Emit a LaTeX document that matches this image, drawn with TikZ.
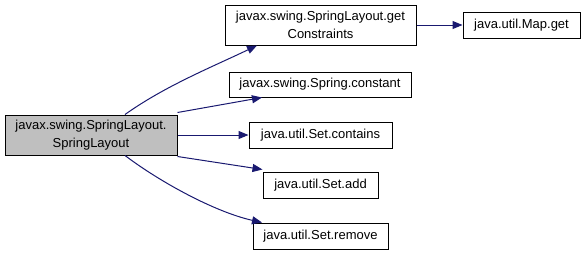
\documentclass[tikz,border=0pt]{standalone}
\usepackage{fontspec}
\setmainfont{Liberation Sans}
\usetikzlibrary{arrows.meta}
\definecolor{edgeblue}{HTML}{191970}
\definecolor{srcgray}{HTML}{BFBFBF}
\begin{document}
\begin{tikzpicture}[x=1pt,y=-1pt,
  box/.style={draw=black, line width=1pt, fill=white, inner sep=0pt,
    align=center, font=\fontsize{13}{17.5}\selectfont},
  edge/.style={draw=edgeblue, line width=1pt,
    -{Triangle[length=10pt,width=8pt]}, color=edgeblue}]
  \useasboundingbox (0,0) rectangle (585,255);
  % caller
  \node[box, fill=srcgray, minimum width=172pt, minimum height=40pt]
    (src) at (91,135) {javax.swing.SpringLayout.\\SpringLayout};
  % callees
  \node[box, minimum width=191pt, minimum height=40pt]
    (gc) at (320.5,25) {javax.swing.SpringLayout.get\\Constraints};
  \node[box, minimum width=117pt, minimum height=26pt]
    (map) at (521.5,25) {java.util.Map.get};
  \node[box, minimum width=182pt, minimum height=25pt]
    (con) at (320,84.5) {javax.swing.Spring.constant};
  \node[box, minimum width=143pt, minimum height=26pt]
    (has) at (320.5,135) {java.util.Set.contains};
  \node[box, minimum width=115pt, minimum height=26pt]
    (add) at (320.5,185) {java.util.Set.add};
  \node[box, minimum width=135pt, minimum height=26pt]
    (rem) at (320.5,236) {java.util.Set.remove};
  % calls
  \draw[edge] ([xshift=34pt]src.north) .. controls (165,86) and (212,67) .. ([xshift=-63.5pt]gc.south);
  \draw[edge] (gc.east) -- (map.west);
  \draw[edge] ([yshift=2pt]src.north east) -- ([xshift=-58pt]con.south);
  \draw[edge] (src.east) -- (has.west);
  \draw[edge] ([yshift=-1pt]src.south east) -- ([yshift=2pt]add.north west);
  \draw[edge] ([xshift=34pt]src.south) .. controls (160,182) and (215,212) .. ([xshift=-58.5pt]rem.north);
\end{tikzpicture}
\end{document}
